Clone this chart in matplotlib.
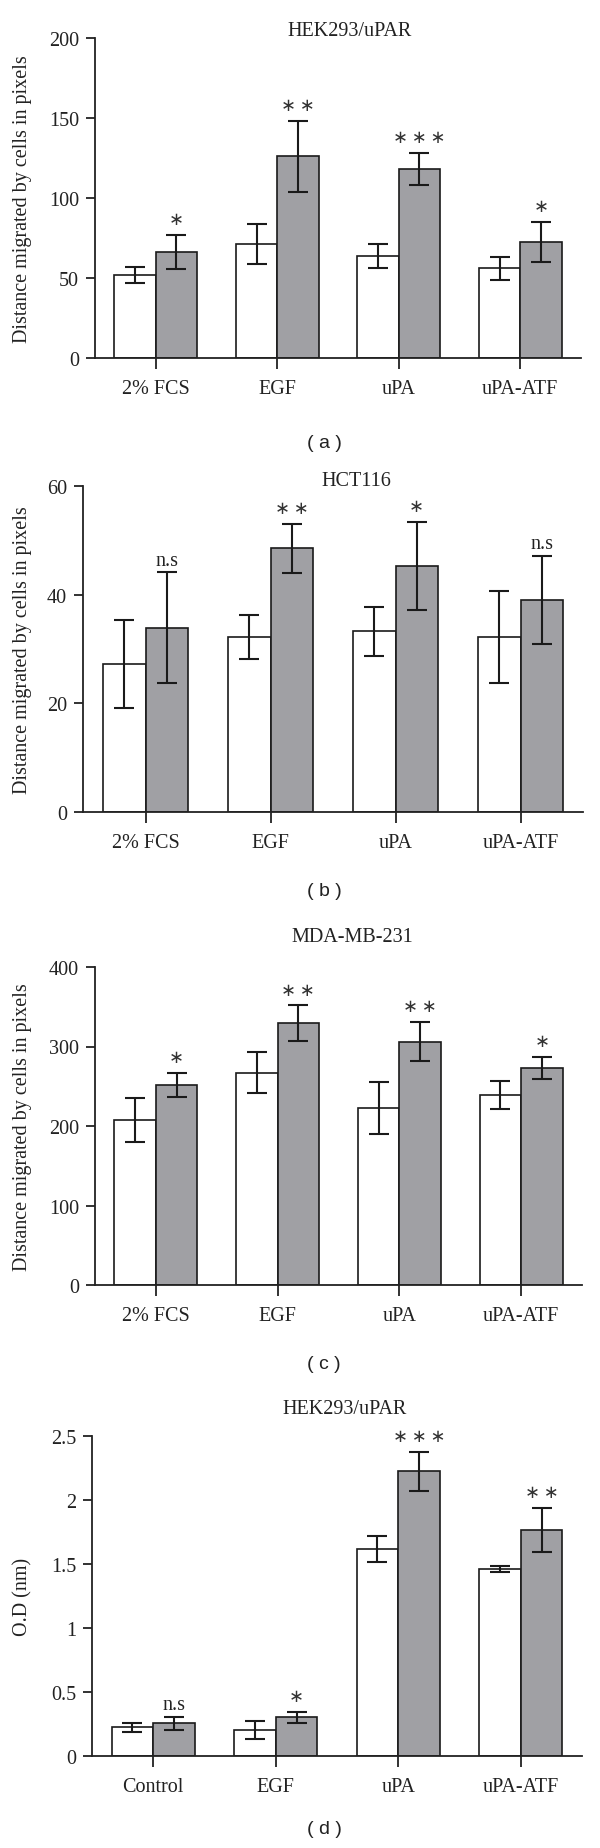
import numpy as np
import matplotlib.pyplot as plt

# data
cats_abc = ["2% FCS", "EGF", "uPA", "uPA-ATF"]
cats_d = ["Control", "EGF", "uPA", "uPA-ATF"]

# (a) HEK293/uPAR migration
a_white = [52, 71, 64, 56]
a_white_err = [5, 12.5, 7.5, 7]
a_grey = [66.3, 126, 118, 72.5]
a_grey_err = [10.8, 22, 10, 12.3]
a_marks = ["*", "**", "***", "*"]

# (b) HCT116 migration
b_white = [27.2, 32.2, 33.3, 32.2]
b_white_err = [8.1, 4.0, 4.5, 8.5]
b_grey = [33.9, 48.5, 45.3, 39.1]
b_grey_err = [10.2, 4.5, 8.1, 8.1]
b_marks = ["n.s", "**", "*", "n.s"]

# (c) MDA-MB-231 migration
c_white = [207.7, 266.8, 222.4, 239.2]
c_white_err = [28, 25.7, 33, 18]
c_grey = [251.3, 329.2, 306.2, 273.1]
c_grey_err = [15.3, 22.4, 24.7, 13.6]
c_marks = ["*", "**", "**", "*"]

# (d) HEK293/uPAR O.D
d_white = [0.224, 0.204, 1.619, 1.461]
d_white_err = [0.035, 0.072, 0.10, 0.022]
d_grey = [0.255, 0.302, 2.224, 1.765]
d_grey_err = [0.052, 0.044, 0.15, 0.17]
d_marks = ["n.s", "*", "***", "**"]

W, H = 600, 1849
SERIF = ["Liberation Serif", "DejaVu Serif"]
GREY = "#a0a0a4"
INK = "#222222"
FS = 14.5

fig = plt.figure(figsize=(W / 100, H / 100), dpi=100)


def box(left, right, top, bottom):
    return [left / W, 1 - bottom / H, (right - left) / W, (bottom - top) / H]


def panel(rect, cats, white, white_err, grey, grey_err, marks, ymax, yticks,
          yticklabels, ylabel, title, title_xy):
    ax = fig.add_axes(rect)
    x = np.arange(len(cats))
    bw = 0.34
    ekw = dict(ecolor="#1a1a1a", elinewidth=1.5, capsize=7, capthick=1.5)
    ax.bar(x - bw / 2, white, bw, color="white", edgecolor="#1a1a1a",
           linewidth=1.2, yerr=white_err, error_kw=ekw, zorder=2)
    ax.bar(x + bw / 2, grey, bw, color=GREY, edgecolor="#1a1a1a",
           linewidth=1.2, yerr=grey_err, error_kw=ekw, zorder=2)
    for xi, g, e, m in zip(x, grey, grey_err, marks):
        if m == "n.s":
            ax.annotate(m, (xi + bw / 2, g + e), xytext=(0, 2),
                        textcoords="offset points", ha="center", va="bottom",
                        fontsize=FS, family=SERIF, color=INK)
        else:
            ax.annotate("\u2009".join("\u2217" * len(m)), (xi + bw / 2, g + e),
                        xytext=(0, 5), textcoords="offset points", ha="center",
                        va="bottom", fontsize=13, family=["DejaVu Sans"],
                        color="#333333")
    ax.set_xlim(-0.5, len(cats) - 0.5)
    ax.set_ylim(0, ymax)
    ax.set_xticks(x)
    ax.set_xticklabels(cats, family=SERIF, fontsize=FS)
    ax.set_yticks(yticks)
    ax.set_yticklabels(yticklabels, family=SERIF, fontsize=FS)
    ax.tick_params(axis="x", length=8, width=1.3, pad=7, colors=INK)
    ax.tick_params(axis="y", length=6.5, width=1.3, pad=5, colors=INK)
    for s in ["top", "right"]:
        ax.spines[s].set_visible(False)
    for s in ["left", "bottom"]:
        ax.spines[s].set_linewidth(1.3)
        ax.spines[s].set_color(INK)
    ax.set_ylabel(ylabel, family=SERIF, fontsize=FS, color=INK)
    fig.text(title_xy[0] / W, 1 - title_xy[1] / H, title, ha="center",
             va="center", family=SERIF, fontsize=FS, color=INK)
    return ax


ax_a = panel(box(95, 581, 39, 359), cats_abc, a_white, a_white_err, a_grey,
             a_grey_err, a_marks, 200, [0, 50, 100, 150, 200],
             ["0", "50", "100", "150", "200"],
             "Distance migrated by cells in pixels", "HEK293/uPAR", (350, 32))
ax_b = panel(box(83, 583, 487, 813), cats_abc, b_white, b_white_err, b_grey,
             b_grey_err, b_marks, 60, [0, 20, 40, 60], ["0", "20", "40", "60"],
             "Distance migrated by cells in pixels", "HCT116", (356, 482))
ax_c = panel(box(95, 582, 968, 1286), cats_abc, c_white, c_white_err, c_grey,
             c_grey_err, c_marks, 400, [0, 100, 200, 300, 400],
             ["0", "100", "200", "300", "400"],
             "Distance migrated by cells in pixels", "MDA-MB-231", (352, 938))
ax_d = panel(box(92, 582, 1437, 1757), cats_d, d_white, d_white_err, d_grey,
             d_grey_err, d_marks, 2.5, [0, 0.5, 1, 1.5, 2, 2.5],
             ["0", "0.5", "1", "1.5", "2", "2.5"],
             "O.D (nm)", "HEK293/uPAR", (345, 1410))

# y-labels sit at about x = 32 px
for ax, left, right in [(ax_a, 95, 581), (ax_b, 83, 583), (ax_c, 95, 582), (ax_d, 92, 582)]:
    ax.yaxis.set_label_coords((32 - left) / (right - left), 0.5)

# panel tags
for tag, y in [("a", 443), ("b", 892), ("c", 1365), ("d", 1830)]:
    fig.text(324 / W, 1 - y / H, "( %s )" % tag, ha="center", va="center",
             family=["Liberation Sans", "DejaVu Sans"], fontsize=14, color=INK)

fig.savefig("out.png", dpi=100)
